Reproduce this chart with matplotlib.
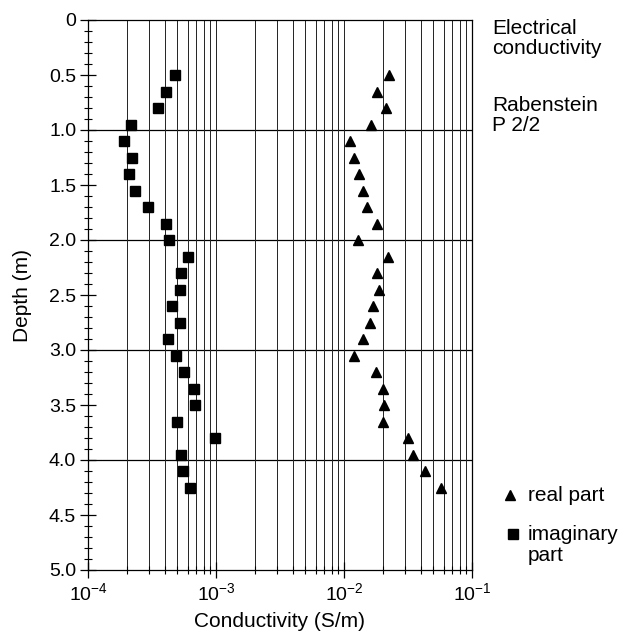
"""
Electrical conductivity profile, Rabenstein P 2/2
"""
import matplotlib
matplotlib.use("Agg")
import matplotlib.pyplot as plt
from matplotlib.lines import Line2D
from matplotlib.ticker import LogLocator, MultipleLocator, FuncFormatter

plt.rcParams['font.family'] = ['Liberation Sans', 'DejaVu Sans']
plt.rcParams['mathtext.default'] = 'regular'

#data
depth = [0.5, 0.65, 0.8, 0.95, 1.1, 1.25, 1.4, 1.55, 1.7, 1.85, 2.0, 2.15, 2.3,
         2.45, 2.6, 2.75, 2.9, 3.05, 3.2, 3.35, 3.5, 3.65, 3.8, 3.95, 4.1, 4.25]
real_part = [2.25e-2, 1.82e-2, 2.12e-2, 1.63e-2, 1.11e-2, 1.20e-2, 1.30e-2,
             1.41e-2, 1.51e-2, 1.81e-2, 1.29e-2, 2.20e-2, 1.80e-2, 1.89e-2,
             1.70e-2, 1.60e-2, 1.40e-2, 1.20e-2, 1.78e-2, 2.01e-2, 2.07e-2,
             2.00e-2, 3.19e-2, 3.43e-2, 4.31e-2, 5.68e-2]
imag_part = [4.8e-4, 4.1e-4, 3.5e-4, 2.15e-4, 1.9e-4, 2.2e-4, 2.1e-4, 2.35e-4,
             2.95e-4, 4.1e-4, 4.3e-4, 6.0e-4, 5.3e-4, 5.2e-4, 4.5e-4, 5.2e-4,
             4.2e-4, 4.9e-4, 5.6e-4, 6.7e-4, 6.8e-4, 5.0e-4, 9.8e-4, 5.3e-4,
             5.5e-4, 6.3e-4]
grid_depths = [1.0, 2.0, 3.0, 4.0]
legend_labels = ["real part", "imaginary\npart"]

W, H = 624, 633
fig = plt.figure(figsize=(W / 100, H / 100), dpi=100)
ax = fig.add_axes([88 / W, 1 - 570 / H, 384 / W, 550 / H])

#vertical grid on every decade subdivision, horizontal only each metre
ax.set_xscale("log")
ax.set_xlim(1e-4, 1e-1)
ax.set_ylim(5.0, 0.0)
ax.xaxis.set_major_locator(LogLocator(base=10))
ax.xaxis.set_minor_locator(LogLocator(base=10, subs=range(2, 10)))
ax.xaxis.set_minor_formatter(plt.NullFormatter())
ax.grid(True, axis="x", which="both", color="#222222", lw=0.7)
for d in grid_depths:
    ax.axhline(d, color="black", lw=0.9, zorder=1)

ax.yaxis.set_major_locator(MultipleLocator(0.5))
ax.yaxis.set_minor_locator(MultipleLocator(0.1))
ax.yaxis.set_major_formatter(FuncFormatter(lambda v, p: "0" if v == 0 else "%.1f" % v))

ax.tick_params(axis="both", which="major", labelsize=14, direction="inout",
               length=11, width=0.9, pad=3)
ax.tick_params(axis="both", which="minor", direction="inout", length=6, width=0.8)
for s in ax.spines.values():
    s.set_linewidth(0.9)

#data
ax.plot(real_part, depth, "^", color="black", ms=7.7, zorder=3)
ax.plot(imag_part, depth, "s", color="black", ms=6.5, zorder=3)

#labels
ax.set_xlabel("Conductivity (S/m)", fontsize=15)
ax.set_ylabel("Depth (m)", fontsize=15)
ax.xaxis.set_label_coords(0.5, -0.076)
ax.yaxis.set_label_coords(-0.146, 0.5)

#side notes (baseline given for the last line)
fig.text(492.5 / W, 1 - 54 / H, "Electrical\nconductivity", fontsize=15,
         va="baseline", linespacing=1.05)
fig.text(492.5 / W, 1 - 131 / H, "Rabenstein\nP 2/2", fontsize=15,
         va="baseline", linespacing=1.05)

#legend drawn by hand so the marker sits on the first line of the label
fig.add_artist(Line2D([510 / W], [1 - 495 / H], marker="^", color="black",
                      ms=7.7, transform=fig.transFigure))
fig.add_artist(Line2D([513 / W], [1 - 534 / H], marker="s", color="black",
                      ms=6.5, transform=fig.transFigure))
fig.text(528 / W, 1 - 501 / H, legend_labels[0], fontsize=15, va="baseline")
fig.text(528 / W, 1 - 561 / H, legend_labels[1], fontsize=15, va="baseline",
         linespacing=1.12)

fig.savefig("out.png", dpi=100)
